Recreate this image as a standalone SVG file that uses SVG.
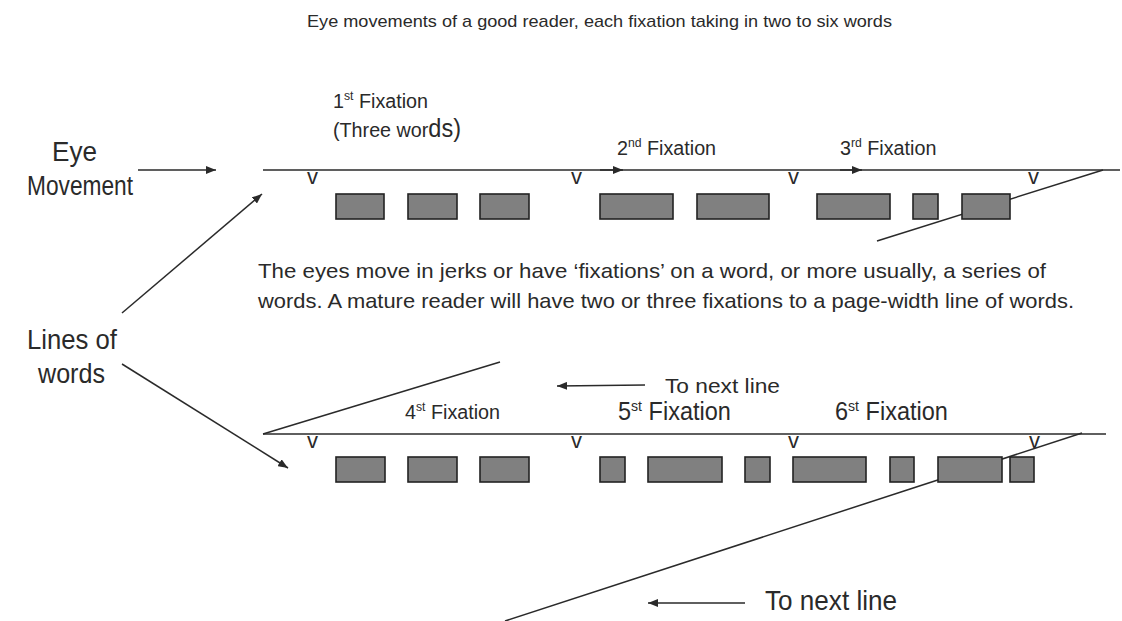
<svg xmlns="http://www.w3.org/2000/svg" width="1122" height="621" viewBox="0 0 1122 621">
<style>
text{font-family:"Liberation Sans",Arial,sans-serif;fill:#2a2a2a}
.ln{stroke:#2a2a2a;stroke-width:1.5;fill:none}
.w{fill:#808080;stroke:#222;stroke-width:1.6}
.v{font-size:22px}
</style>
<defs>
<marker id="ah" viewBox="0 0 10 8" refX="10" refY="4" markerWidth="10" markerHeight="8" markerUnits="userSpaceOnUse" orient="auto"><path d="M0,0 L10,4 L0,8 z" fill="#2a2a2a"/></marker>
</defs>
<rect width="1122" height="621" fill="#fff"/>
<g id="connectors">
<line class="ln" x1="138" y1="170" x2="216" y2="170" marker-end="url(#ah)"/>
<line class="ln" x1="600" y1="170" x2="623" y2="170" marker-end="url(#ah)"/>
<line class="ln" x1="840" y1="170" x2="862" y2="170" marker-end="url(#ah)"/>
<line class="ln" x1="122" y1="313" x2="262" y2="194" marker-end="url(#ah)"/>
<line class="ln" x1="122" y1="364" x2="288" y2="468" marker-end="url(#ah)"/>
<line class="ln" x1="1103" y1="170" x2="877" y2="241"/>
<line class="ln" x1="263" y1="434" x2="500" y2="362"/>
<line class="ln" x1="645" y1="385" x2="557" y2="386" marker-end="url(#ah)"/>
<line class="ln" x1="1082" y1="433" x2="505" y2="621"/>
<line class="ln" x1="745" y1="603" x2="648" y2="603" marker-end="url(#ah)"/>
</g>
<text id="title" x="307" y="27" font-size="17" textLength="585" lengthAdjust="spacingAndGlyphs">Eye movements of a good reader, each fixation taking in two to six words</text>
<g id="eye-movement"><text x="52" y="161" font-size="27" textLength="45" lengthAdjust="spacingAndGlyphs">Eye</text><text x="27" y="195" font-size="27" textLength="106" lengthAdjust="spacingAndGlyphs">Movement</text></g>
<g id="lines-of-words"><text x="27" y="349" font-size="27" textLength="90" lengthAdjust="spacingAndGlyphs">Lines of</text><text x="38" y="383" font-size="27" textLength="67" lengthAdjust="spacingAndGlyphs">words</text></g>
<g id="para"><text x="258" y="278" font-size="21" textLength="788" lengthAdjust="spacingAndGlyphs">The eyes move in jerks or have ‘fixations’ on a word, or more usually, a series of</text><text x="258" y="308" font-size="21" textLength="816" lengthAdjust="spacingAndGlyphs">words. A mature reader will have two or three fixations to a page-width line of words.</text></g>
<g id="labels-top">
<text transform="translate(333,108) scale(0.94,1)" font-size="21">1<tspan font-size="13" dy="-8">st</tspan><tspan dy="8"> Fixation</tspan></text>
<text transform="translate(333,137) scale(0.94,1)" font-size="21">(Three wor<tspan font-size="25">ds)</tspan></text>
<text transform="translate(617,155) scale(0.94,1)" font-size="21">2<tspan font-size="13" dy="-8">nd</tspan><tspan dy="8"> Fixation</tspan></text>
<text transform="translate(840,155) scale(0.94,1)" font-size="21">3<tspan font-size="13" dy="-8">rd</tspan><tspan dy="8"> Fixation</tspan></text>
</g>
<g id="labels-bottom">
<text x="665" y="393" font-size="21" textLength="115" lengthAdjust="spacingAndGlyphs">To next line</text>
<text transform="translate(405,419) scale(0.94,1)" font-size="21">4<tspan font-size="13" dy="-8">st</tspan><tspan dy="8"> Fixation</tspan></text>
<text transform="translate(618,420) scale(0.94,1)" font-size="25">5<tspan font-size="15" dy="-9">st</tspan><tspan dy="9"> Fixation</tspan></text>
<text transform="translate(835,420) scale(0.94,1)" font-size="25">6<tspan font-size="15" dy="-9">st</tspan><tspan dy="9"> Fixation</tspan></text>
<text x="765" y="610" font-size="28" textLength="132" lengthAdjust="spacingAndGlyphs">To next line</text>
</g>
<g id="line1">
<line class="ln" x1="263" y1="170" x2="1120" y2="170"/>
<text class="v" x="307" y="184">v</text><text class="v" x="571" y="184">v</text><text class="v" x="788" y="184">v</text><text class="v" x="1028" y="184">v</text>
<rect class="w" x="336" y="194" width="48" height="25"/>
<rect class="w" x="408" y="194" width="49" height="25"/>
<rect class="w" x="480" y="194" width="49" height="25"/>
<rect class="w" x="600" y="194" width="73" height="25"/>
<rect class="w" x="697" y="194" width="72" height="25"/>
<rect class="w" x="817" y="194" width="73" height="25"/>
<rect class="w" x="913" y="194" width="25" height="25"/>
<rect class="w" x="962" y="194" width="48" height="25"/>
</g>
<g id="line2">
<line class="ln" x1="263" y1="434" x2="1106" y2="434"/>
<text class="v" x="307" y="448">v</text><text class="v" x="571" y="448">v</text><text class="v" x="788" y="448">v</text><text class="v" x="1029" y="448">v</text>
<rect class="w" x="336" y="457" width="49" height="25"/>
<rect class="w" x="408" y="457" width="49" height="25"/>
<rect class="w" x="480" y="457" width="49" height="25"/>
<rect class="w" x="600" y="457" width="25" height="25"/>
<rect class="w" x="648" y="457" width="74" height="25"/>
<rect class="w" x="745" y="457" width="25" height="25"/>
<rect class="w" x="793" y="457" width="73" height="25"/>
<rect class="w" x="890" y="457" width="24" height="25"/>
<rect class="w" x="938" y="457" width="64" height="25"/>
<rect class="w" x="1010" y="457" width="24" height="25"/>
</g>
</svg>
